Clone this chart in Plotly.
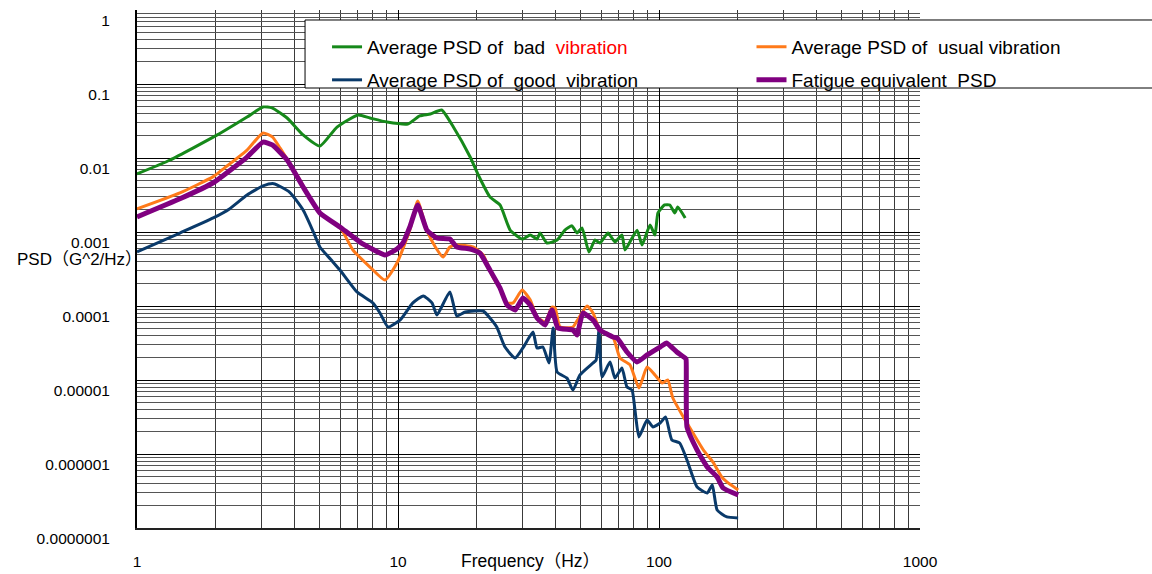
import plotly.graph_objects as go

# ---- data: frequency (Hz) and PSD (G^2/Hz) for each averaged spectrum ----
bad_freq = [1.0, 1.34, 2.03, 2.64, 3.04, 3.29, 3.76, 4.33, 5.02, 5.84, 7.03, 7.81, 9.08, 10.9, 12.1,
            13.3, 14.7, 16.3, 18.9, 20.3, 22.5, 24.6, 26.9, 29.3, 30.1, 32.1, 34.1, 35.0, 37.2, 40.7,
            43.6, 46.4, 48.5, 50.7, 53.9, 56.9, 59.4, 63.8, 67.8, 72.1, 74.1, 82.4, 86.1, 92.4, 96.5,
            99.1, 105, 110, 115, 118, 126]
bad_psd = [6.1e-3, 9.4e-3, 2.05e-2, 3.58e-2, 4.89e-2, 4.75e-2, 3.47e-2, 2.05e-2, 1.45e-2, 2.62e-2,
           3.81e-2, 3.47e-2, 3.06e-2, 2.88e-2, 3.70e-2, 3.93e-2, 4.45e-2, 2.62e-2, 1.03e-2, 5.89e-3,
           2.98e-3, 2.32e-3, 1.06e-3, 8.3e-4, 8.04e-4, 9.1e-4, 8.04e-4, 9.69e-4, 7.1e-4, 7.79e-4,
           1.06e-3, 1.21e-3, 9.69e-4, 1.13e-3, 5.37e-4, 7.79e-4, 7.1e-4, 9.69e-4, 7.32e-4, 9.1e-4,
           5.71e-4, 1.06e-3, 6.67e-4, 1.24e-3, 9.1e-4, 1.81e-3, 2.32e-3, 2.32e-3, 1.81e-3, 2.18e-3,
           1.55e-3]

usual_freq = [1.0, 1.46, 1.96, 2.16, 2.64, 3.04, 3.30, 3.53, 4.10, 5.02, 5.99, 6.72, 7.81, 8.91, 9.91,
              11.1, 11.9, 12.9, 13.9, 14.9, 15.8, 16.8, 19.4, 21.2, 23.1, 24.6, 26.2, 27.6, 29.9, 32.1,
              34.1, 36.6, 38.9, 40.0, 41.8, 46.8, 48.7, 53.0, 55.9, 59.4, 66.6, 70.9, 77.4, 83.8, 90.0,
              96.5, 103, 108, 113, 124, 135, 148, 161, 174, 182, 201]
usual_psd = [2.05e-3, 3.37e-3, 5.6e-3, 7.3e-3, 1.28e-2, 2.18e-2, 1.93e-2, 1.37e-2, 5.89e-3, 1.81e-3,
             1.17e-3, 5.71e-4, 3.36e-4, 2.24e-4, 3.81e-4, 1.06e-3, 2.62e-3, 1.06e-3, 6.27e-4, 4.59e-4,
             6.27e-4, 6.67e-4, 6.27e-4, 4.89e-4, 2.46e-4, 1.75e-4, 1.10e-4, 1.10e-4, 1.64e-4, 1.21e-4,
             7.1e-5, 6.08e-5, 9.69e-5, 9.4e-5, 5.2e-5, 5.2e-5, 6.47e-5, 1.0e-4, 8.04e-5, 4.74e-5,
             3.81e-5, 1.98e-5, 1.6e-5, 7.79e-6, 1.5e-5, 1.17e-5, 9.1e-6, 1.0e-5, 5.71e-6, 3.16e-6,
             1.92e-6, 1.13e-6, 7.79e-7, 4.89e-7, 4.19e-7, 3.27e-7]

good_freq = [1.0, 1.46, 1.96, 2.26, 2.64, 3.04, 3.34, 3.84, 4.33, 4.74, 5.02, 5.53, 5.99, 6.96, 8.02,
             8.53, 9.16, 10.2, 11.4, 12.5, 13.5, 14.1, 15.8, 16.8, 18.1, 21.2, 22.5, 23.9, 25.7, 28.1,
             30.1, 32.9, 34.1, 35.9, 37.9, 39.3, 40.7, 44.4, 46.8, 49.8, 55.9, 57.4, 58.9, 60.5, 64.9,
             67.8, 72.1, 75.4, 78.8, 80.9, 83.8, 90.0, 94.8, 101, 106, 112, 120, 128, 140, 153,
             160, 167, 182, 201]
good_psd = [5.37e-4, 9.69e-4, 1.55e-3, 2.05e-3, 3.16e-3, 4.19e-3, 4.5e-3, 3.47e-3, 1.98e-3, 1.0e-3,
            6.27e-4, 4.24e-4, 3.06e-4, 1.55e-4, 1.10e-4, 8.04e-5, 5.2e-5, 6.47e-5, 1.1e-4, 1.37e-4,
            1.1e-4, 7.56e-5, 1.55e-4, 7.32e-5, 8.3e-5, 8.56e-5, 6.88e-5, 5.2e-5, 2.79e-5, 1.98e-5,
            2.71e-5, 4.45e-5, 2.71e-5, 2.79e-5, 1.7e-5, 5.05e-5, 1.28e-5, 1.06e-5, 7.32e-6, 1.17e-5,
            1.7e-5, 1.86e-5, 4.74e-5, 1.1e-5, 1.75e-5, 1.06e-5, 1.45e-5, 8.04e-6, 7.32e-6, 3.93e-6,
            1.7e-6, 2.88e-6, 2.32e-6, 2.62e-6, 3.16e-6, 1.55e-6, 1.41e-6, 8.3e-7, 3.58e-7, 2.97e-7,
            3.81e-7, 1.75e-7, 1.41e-7, 1.37e-7]

fatigue_freq = [1.0, 1.46, 1.96, 2.64, 3.04, 3.30, 3.76, 4.33, 5.02, 5.99, 7.15, 8.91, 9.91, 10.45,
                11.1, 11.9, 12.9, 14.1, 15.8, 16.8, 18.9, 20.6, 22.5, 24.6, 26.2, 28.1, 30.1, 32.1,
                34.1, 36.6, 38.9, 41.0, 46.8, 48.5, 51.1, 55.9, 59.4, 66.6, 69.0, 75.4, 82.4, 90.0,
                101, 107, 117, 126, 127, 128, 140, 153, 167, 176, 201]
fatigue_psd = [1.6e-3, 2.81e-3, 4.63e-3, 1.03e-2, 1.64e-2, 1.5e-2, 9.4e-3, 4.06e-3, 1.81e-3, 1.17e-3,
               7.32e-4, 4.89e-4, 5.89e-4, 7.1e-4, 1.17e-3, 2.32e-3, 1.06e-3, 8.3e-4, 8.04e-4, 6.27e-4,
               5.89e-4, 5.2e-4, 3.06e-4, 1.75e-4, 1.03e-4, 8.83e-5, 1.28e-4, 1.03e-4, 6.88e-5, 5.54e-5,
               8.83e-5, 5.05e-5, 4.74e-5, 4.06e-5, 8.04e-5, 6.47e-5, 4.74e-5, 3.81e-5, 3.7e-5, 2.39e-5,
               1.75e-5, 2.18e-5, 2.79e-5, 3.16e-5, 2.39e-5, 1.98e-5, 1.9e-5, 2.32e-6, 1.13e-6, 6.67e-7,
               4.89e-7, 3.47e-7, 2.79e-7]

x_tick_vals = [1, 10, 100, 1000]
x_tick_text = ["1", "10", "100", "1000"]
y_tick_vals = [1e-7, 1e-6, 1e-5, 1e-4, 1e-3, 1e-2, 1e-1, 1]
y_tick_text = ["0.0000001", "0.000001", "0.00001", "0.0001", "0.001", "0.01", "0.1", "1"]

NBSP = "\u00a0"
name_bad = f"Average PSD of{NBSP} bad{NBSP} <span style='color:#ff0000'>vibration</span>"
name_usual = f"Average PSD of{NBSP} usual vibration"
name_good = f"Average PSD of{NBSP} good{NBSP} vibration"
name_fatigue = f"Fatigue equivalent{NBSP} PSD"

TEXT_FONT = "Liberation Sans, Arial, Noto Sans CJK JP, sans-serif"

fig = go.Figure()
fig.add_trace(go.Scatter(x=bad_freq, y=bad_psd, mode="lines", name=name_bad,
                         line=dict(color="#16891a", width=3, shape="spline", smoothing=0.5),
                         legend="legend"))
fig.add_trace(go.Scatter(x=good_freq, y=good_psd, mode="lines", name=name_good,
                         line=dict(color="#0a3a6a", width=3, shape="spline", smoothing=0.5),
                         legend="legend3"))
fig.add_trace(go.Scatter(x=usual_freq, y=usual_psd, mode="lines", name=name_usual,
                         line=dict(color="#ff7a1a", width=3, shape="spline", smoothing=0.5),
                         legend="legend2"))
fig.add_trace(go.Scatter(x=fatigue_freq, y=fatigue_psd, mode="lines", name=name_fatigue,
                         line=dict(color="#800080", width=5, shape="spline", smoothing=0.4),
                         legend="legend4"))

# log-grid minor lines (2..9 within each decade)
x_minor = [m * 10 ** k for k in range(0, 3) for m in range(2, 10)]
y_minor = [m * 10.0 ** k for k in range(-7, 0) for m in range(2, 10)]

legend_common = dict(font=dict(family=TEXT_FONT, size=19, color="black"),
                     bgcolor="rgba(0,0,0,0)", borderwidth=0, xanchor="left",
                     yanchor="middle", itemwidth=30)

fig.update_layout(
    width=1152, height=574,
    margin=dict(l=137, r=232, t=10, b=46, autoexpand=False),
    paper_bgcolor="white", plot_bgcolor="white",
    showlegend=True,
    legend=dict(x=0.2427, y=0.9286, **legend_common),
    legend2=dict(x=0.7848, y=0.9286, **legend_common),
    legend3=dict(x=0.2427, y=0.8649, **legend_common),
    legend4=dict(x=0.7848, y=0.8649, **legend_common),
    xaxis=dict(
        type="log", range=[0, 3], automargin=False,
        tickmode="array", tickvals=x_tick_vals, ticktext=x_tick_text,
        ticks="", ticklabelstandoff=18,
        tickfont=dict(family=TEXT_FONT, size=15.5, color="black"),
        showgrid=True, gridcolor="#000000", gridwidth=1,
        minor=dict(tickmode="array", tickvals=x_minor, showgrid=True,
                   gridcolor="#3a3a3a", gridwidth=1, ticks=""),
        showline=True, linecolor="#222222", linewidth=2, zeroline=False,
    ),
    yaxis=dict(
        type="log", range=[-7, 0], automargin=False,
        tickmode="array", tickvals=y_tick_vals, ticktext=y_tick_text,
        ticks="", ticklabelstandoff=22, ticklabelshift=11,
        tickfont=dict(family=TEXT_FONT, size=15.5, color="black"),
        showgrid=True, gridcolor="#000000", gridwidth=1,
        minor=dict(tickmode="array", tickvals=y_minor, showgrid=True,
                   gridcolor="#555555", gridwidth=1, ticks=""),
        showline=True, linecolor="#000000", linewidth=2, zeroline=False,
    ),
    shapes=[dict(type="rect", xref="paper", yref="paper",
                 x0=0.2146, x1=1.32, y0=0.8494, y1=0.9807,
                 fillcolor="white", line=dict(color="black", width=1), layer="above")],
    annotations=[
        dict(text="PSD（G^2/Hz）", xref="paper", yref="paper", x=0.009, y=0.518,
             xanchor="right", yanchor="middle", showarrow=False,
             font=dict(family=TEXT_FONT, size=17, color="black")),
        dict(text="Frequency（Hz）", xref="paper", yref="paper", x=0.503, y=-0.0637,
             xanchor="center", yanchor="middle", showarrow=False,
             font=dict(family=TEXT_FONT, size=17.5, color="black")),
    ],
)

fig.write_html("out.html")
